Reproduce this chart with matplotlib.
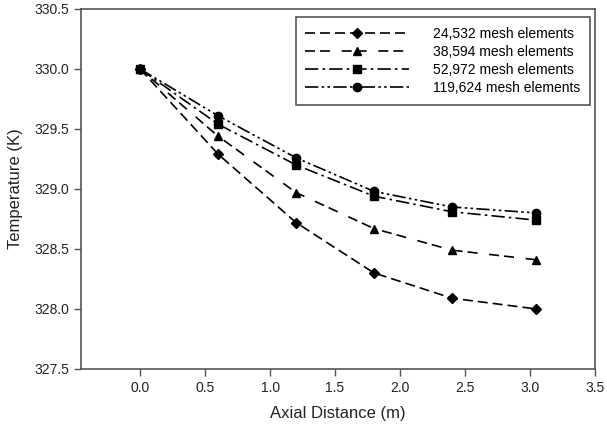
import numpy as np
import matplotlib.pyplot as plt

plt.rcParams['font.family'] = ['Liberation Sans', 'DejaVu Sans']

# Axial positions (m)
distance = [0.0, 0.6, 1.2, 1.8, 2.4, 3.05]

# Temperature (K) for each mesh
temp_24532 = [330.0, 329.29, 328.72, 328.30, 328.09, 328.00]
temp_38594 = [330.0, 329.44, 328.97, 328.67, 328.49, 328.41]
temp_52972 = [330.0, 329.54, 329.20, 328.94, 328.81, 328.74]
temp_119624 = [330.0, 329.61, 329.26, 328.98, 328.85, 328.80]

labels = ["24,532 mesh elements", "38,594 mesh elements",
          "52,972 mesh elements", "119,624 mesh elements"]

fig = plt.figure(figsize=(6.07, 4.30), dpi=100)
ax = fig.add_axes([0.1334, 0.1419, 0.8468, 0.8372])

ax.plot(distance, temp_24532, color='black', lw=1.2, ls=(0, (6, 3)),
        marker='D', ms=5, label=labels[0])
ax.plot(distance, temp_38594, color='black', lw=1.2, ls=(0, (6, 3, 6, 7)),
        marker='^', ms=6, label=labels[1])
ax.plot(distance, temp_52972, color='black', lw=1.2, ls=(0, (8, 2.5, 1.5, 2.5)),
        marker='s', ms=5.5, label=labels[2])
ax.plot(distance, temp_119624, color='black', lw=1.2, ls=(0, (8, 2, 1.5, 2, 1.5, 2)),
        marker='o', ms=6, label=labels[3])

ax.set_xlim(-0.455, 3.5)
ax.set_ylim(327.5, 330.5)
ax.set_xticks(np.arange(0, 3.51, 0.5))
ax.set_yticks(np.arange(327.5, 330.51, 0.5))
ax.xaxis.set_major_formatter(plt.FormatStrFormatter('%.1f'))
ax.yaxis.set_major_formatter(plt.FormatStrFormatter('%.1f'))
ax.tick_params(direction='out', length=5, width=1, color='#555555', labelsize=10, labelcolor='#222222')

for s in ax.spines.values():
    s.set_color('#555555')
    s.set_linewidth(1.2)

ax.set_xlabel("Axial Distance (m)", fontsize=12, color='#222222', labelpad=8)
ax.set_ylabel("Temperature (K)", fontsize=12, color='#222222', labelpad=8)

# legend sits just inside the top-right corner
leg = ax.legend(loc='upper right', bbox_to_anchor=(1 - 5 / 514, 1 - 8 / 360),
                borderaxespad=0, fontsize=10, handlelength=7.5, numpoints=1,
                fancybox=False, framealpha=1, borderpad=0.7,
                labelspacing=0.3, handletextpad=1.7)
leg.get_frame().set_edgecolor('#555555')
leg.get_frame().set_linewidth(1.2)

fig.savefig("out.png", dpi=100)
